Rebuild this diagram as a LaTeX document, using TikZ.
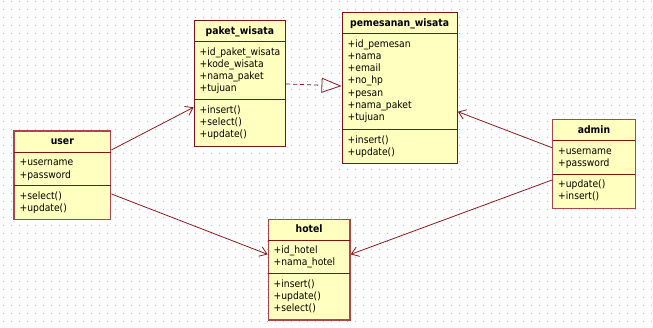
\documentclass[tikz,border=0pt]{standalone}
\usepackage{fontspec}
\setmainfont{DejaVu Sans Condensed}
\usetikzlibrary{arrows.meta}
\definecolor{umlborder}{RGB}{128,20,20}
\definecolor{umlborderb}{RGB}{170,70,70}
\definecolor{umlfill}{RGB}{255,255,192}
\definecolor{umlline}{RGB}{140,25,25}
\definecolor{griddot}{RGB}{185,185,185}
\tikzset{
  classbox/.style={draw=umlborder, fill=umlfill, line width=1pt, inner sep=0pt, rectangle},
  classboxb/.style={classbox, draw=umlborderb, line width=1.4pt},
  divider/.style={draw=umlborder, line width=1pt},
  titletext/.style={font=\fontsize{10.3}{12}\selectfont\bfseries, inner sep=0pt, anchor=base},
  membertext/.style={font=\fontsize{10.2}{12}\selectfont, inner sep=0pt, anchor=base west},
  assoc/.style={draw=umlline, line width=0.8pt, -{Straight Barb[length=7pt,width=10pt]}},
  realize/.style={draw=umlline, line width=0.8pt, dash pattern=on 4pt off 3pt, -{Triangle[open, length=20pt, width=15pt, line width=0.8pt]}}
}
% #1 name, #2 style, #3 left, #4 top, #5 right, #6 bottom, #7 div1, #8 div2, #9 title
\newcommand\umlbox[9]{%
  \node[#2, minimum width={(#5-#3)*1pt}, minimum height={(#6-#4)*1pt}] (#1) at ({(#3+#5)/2},{(#4+#6)/2}) {};
  \draw[divider] (#3,#7) -- (#5,#7);
  \draw[divider] (#3,#8) -- (#5,#8);
  \node[titletext] (#1-t) at ({(#3+#5)/2},{(#4+#7)/2+3.3}) {#9};
}
% #1 name prefix, #2 x, #3 first baseline, #4 list
\newcommand\umlmembers[4]{%
  \foreach \txt [count=\i] in {#4}{%
    \node[membertext] (#1-\i) at (#2,{#3+(\i-1)*12.3}) {\txt};
  }%
}
\begin{document}
\begin{tikzpicture}[x=1pt,y=-1pt]
\useasboundingbox (0,0) rectangle (653,327);
\fill[white] (0,0) rectangle (653,327);
\foreach \gx in {3,11,...,651}{\foreach \gy in {1,9,...,325}{\fill[griddot] (\gx,\gy) rectangle +(1,1);}}

% paket_wisata
\umlbox{paket}{classbox}{194}{20.7}{285.7}{146}{41.7}{99.3}{paket\_wisata}
\umlmembers{paket-a}{199.5}{55}{+id\_paket\_wisata,+kode\_wisata,+nama\_paket,+tujuan}
\umlmembers{paket-m}{199.5}{113}{+insert(),+select(),+update()}

% pemesanan_wisata
\umlbox{pesan}{classbox}{342}{12.7}{457.3}{163.3}{33.7}{129.7}{pemesanan\_wisata}
\umlmembers{pesan-a}{347.5}{47}{+id\_pemesan,+nama,+email,+no\_hp,+pesan,+nama\_paket,+tujuan}
\umlmembers{pesan-m}{347.5}{143.5}{+insert(),+update()}

% user
\umlbox{user}{classboxb}{14}{131}{110.7}{219.7}{152.3}{185.3}{user}
\umlmembers{user-a}{19.5}{165.7}{+username,+password}
\umlmembers{user-m}{19.5}{199}{+select(),+update()}

% hotel
\umlbox{hotel}{classboxb}{268.3}{219.3}{350}{320}{240}{273.7}{hotel}
\umlmembers{hotel-a}{273.5}{253.3}{+id\_hotel,+nama\_hotel}
\umlmembers{hotel-m}{273.5}{287.3}{+insert(),+update(),+select()}

% admin
\umlbox{admin}{classboxb}{552.7}{119.3}{635.3}{208.3}{140.7}{174}{admin}
\umlmembers{admin-a}{558}{154}{+username,+password}
\umlmembers{admin-m}{558}{187.5}{+update(),+insert()}

% connectors
\draw[assoc] ([yshift=25.4pt]user.east) -- ([yshift=-24pt]paket.west);
\draw[assoc] ([yshift=-18.6pt]user.east) -- ([yshift=15.3pt]hotel.west);
\draw[realize] ([yshift=-0.6pt]paket.east) -- ([yshift=2pt]pesan.west);
\draw[assoc] ([yshift=16.1pt]admin.west) -- ([yshift=-23.7pt]pesan.east);
\draw[assoc] ([yshift=-16.2pt]admin.west) -- ([yshift=15.3pt]hotel.east);
\end{tikzpicture}
\end{document}
